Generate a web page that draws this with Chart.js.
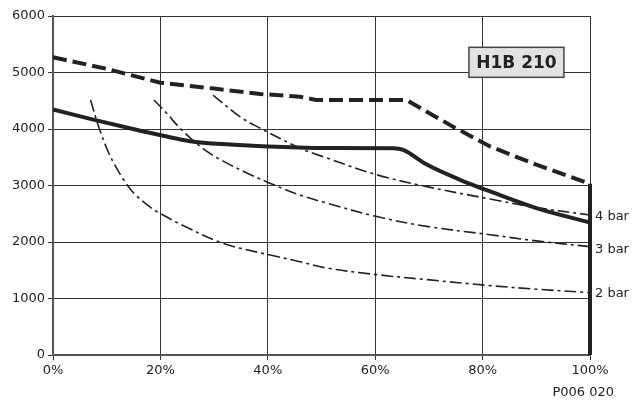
<!DOCTYPE html>
<html>
<head>
<meta charset="utf-8">
<script src="https://cdn.jsdelivr.net/npm/chart.js@4.4.1/dist/chart.umd.min.js"></script>
<style>
  html, body { margin: 0; padding: 0; background: #fff; }
  #wrap { width: 632px; height: 403px; position: relative; }
</style>
</head>
<body>
<div id="wrap"><canvas id="perfChart"></canvas></div>
<script>
// x in %, y in the chart's units
const maxPct = [0, 10, 20, 30, 38.6, 46, 49, 65.8, 74.5, 81.4, 90, 100];
const maxVal = [5270, 5065, 4820, 4715, 4620, 4570, 4515, 4515, 4040, 3690, 3370, 3030];

const mainPct = [0, 7.5, 15.3, 20.5, 25.5, 33, 40, 50, 63.4, 65.2, 69.6, 75.8, 81.4, 90, 100];
const mainVal = [4345, 4165, 3990, 3880, 3785, 3725, 3690, 3665, 3660, 3630, 3370, 3100, 2895, 2600, 2345];

const limitPct = [100, 100];
const limitVal = [3030, 0];

const bar4Pct = [29.8, 34.8, 38.6, 46, 50, 60.3, 69.6, 81.4, 90, 100];
const bar4Val = [4600, 4218, 4014, 3660, 3520, 3190, 2980, 2760, 2610, 2478];

const bar3Pct = [18.8, 20.9, 24.2, 28.6, 32.3, 35.7, 40.4, 46, 50.9, 60.3, 69.6, 81.4, 90, 100];
const bar3Val = [4513, 4306, 3960, 3607, 3400, 3240, 3040, 2830, 2690, 2450, 2276, 2129, 2020, 1917];

const bar2Pct = [7, 8.4, 10, 11.5, 13.4, 15.3, 18.4, 20.5, 24, 31.7, 40.4, 46, 50.9, 60.3, 69.6, 81.4, 90, 100];
const bar2Val = [4513, 4071, 3660, 3363, 3068, 2840, 2596, 2478, 2301, 1976, 1770, 1651, 1541, 1422, 1334, 1228, 1165, 1103];

const xTicks = [0, 20, 40, 60, 80, 100];
const yTicks = [0, 1000, 2000, 3000, 4000, 5000, 6000];

const barLabels = ['4 bar', '3 bar', '2 bar'];
const barLabelVals = [2450, 1870, 1090];

const modelName = 'H1B 210';
const figureCode = 'P006 020';

const ink = '#222';
const FONT = 'DejaVu Sans';

function pts(xs, ys) {
  return xs.map((x, i) => ({ x: x, y: ys[i] }));
}

const annotations = {
  id: 'annotations',
  afterDatasetsDraw(chart) {
    const { ctx, scales: { x, y } } = chart;
    ctx.save();
    ctx.fillStyle = ink;
    ctx.font = '13px "' + FONT + '"';
    ctx.textAlign = 'left';
    ctx.textBaseline = 'middle';
    barLabels.forEach((txt, i) => {
      ctx.fillText(txt, x.getPixelForValue(100) + 5, y.getPixelForValue(barLabelVals[i]));
    });

    // model box
    ctx.font = 'bold 17px "' + FONT + '"';
    const cx = x.getPixelForValue(86.3);
    const cy = y.getPixelForValue(5180);
    const w = 95, h = 30;
    ctx.fillStyle = '#e2e2e2';
    ctx.fillRect(cx - w / 2, cy - h / 2, w, h);
    ctx.strokeStyle = '#444';
    ctx.lineWidth = 1.5;
    ctx.strokeRect(cx - w / 2, cy - h / 2, w, h);
    ctx.fillStyle = ink;
    ctx.textAlign = 'center';
    ctx.fillText(modelName, cx, cy + 1);

    ctx.font = '13px "' + FONT + '"';
    ctx.textAlign = 'right';
    ctx.fillText(figureCode, 614, 393);
    ctx.restore();
  }
};

window.addEventListener('DOMContentLoaded', () => {
  const ctx = document.getElementById('perfChart').getContext('2d');
  const thin = { borderColor: ink, borderWidth: 1.6, borderDash: [12, 4, 3, 4], pointRadius: 0, tension: 0.35, fill: false, clip: false };

  new Chart(ctx, {
    type: 'line',
    data: {
      datasets: [
        { label: '2 bar', data: pts(bar2Pct, bar2Val), ...thin },
        { label: '3 bar', data: pts(bar3Pct, bar3Val), ...thin },
        { label: '4 bar', data: pts(bar4Pct, bar4Val), ...thin },
        { label: 'main', data: pts(mainPct, mainVal), borderColor: ink, borderWidth: 4, pointRadius: 0, cubicInterpolationMode: 'monotone', fill: false, clip: false },
        { label: 'max', data: pts(maxPct, maxVal), borderColor: ink, borderWidth: 4, borderDash: [14, 6], pointRadius: 0, tension: 0, fill: false, clip: false },
        { label: 'limit', data: pts(limitPct, limitVal), borderColor: ink, borderWidth: 4, pointRadius: 0, tension: 0, fill: false, clip: false }
      ]
    },
    options: {
      responsive: true,
      maintainAspectRatio: false,
      animation: false,
      layout: { padding: { top: 16, right: 42, left: 0, bottom: 0 } },
      plugins: { legend: { display: false }, tooltip: { enabled: false } },
      scales: {
        x: {
          type: 'linear',
          min: 0, max: 100,
          afterBuildTicks: s => { s.ticks = xTicks.map(v => ({ value: v })); },
          afterFit: s => { s.height = 48; },
          grid: { color: '#333', lineWidth: 1, tickLength: 5, drawTicks: true },
          border: { color: '#555', width: 2 },
          ticks: { color: ink, font: { family: FONT, size: 13 }, padding: 3, maxRotation: 0, callback: v => v + '%' }
        },
        y: {
          type: 'linear',
          min: 0, max: 6000,
          afterBuildTicks: s => { s.ticks = yTicks.map(v => ({ value: v })); },
          afterFit: s => { s.width = 53; },
          grid: { color: '#333', lineWidth: 1, tickLength: 5 },
          border: { color: '#555', width: 2 },
          ticks: { color: ink, font: { family: FONT, size: 13 }, padding: 3, callback: v => String(v) }
        }
      }
    },
    plugins: [annotations]
  });
});
</script>
</body>
</html>
